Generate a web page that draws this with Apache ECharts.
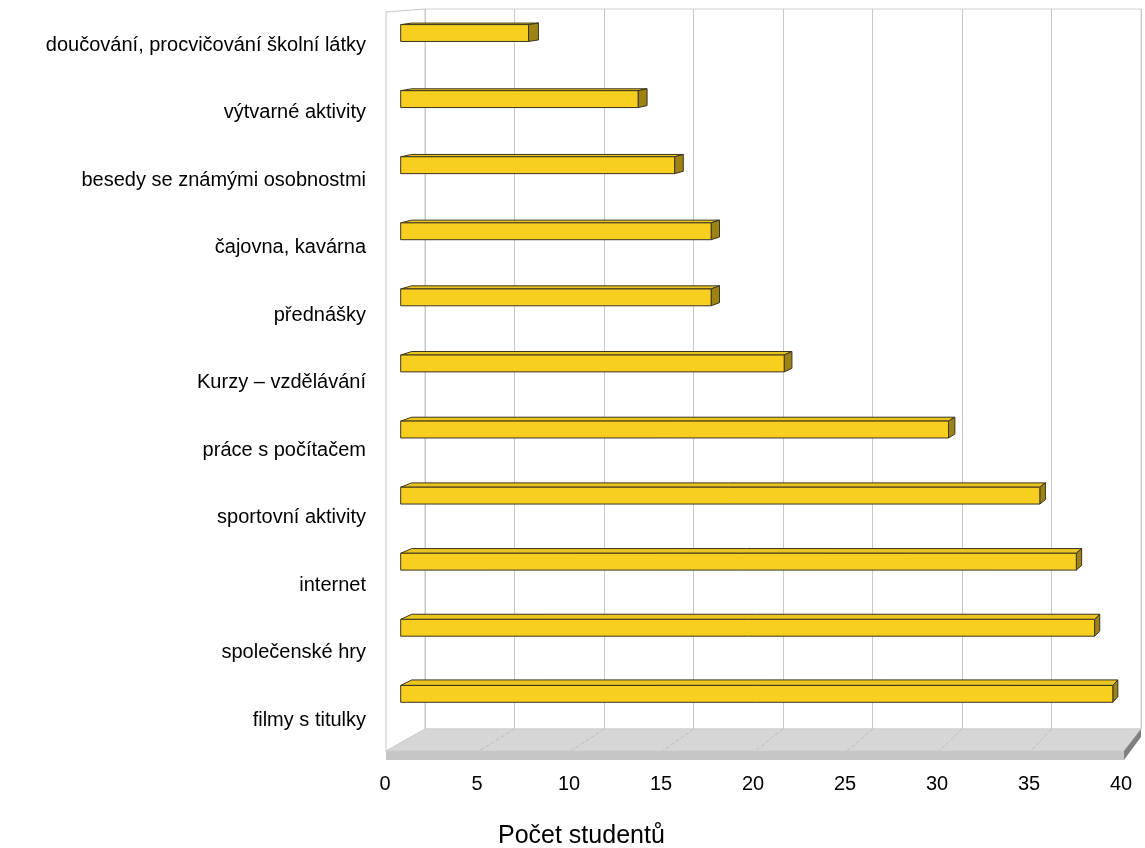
<!DOCTYPE html>
<html>
<head>
<meta charset="utf-8">
<script src="https://cdn.jsdelivr.net/npm/echarts@6/dist/echarts.min.js"></script>
<style>
html,body{margin:0;padding:0;background:#fff;}
#chart{width:1145px;height:848px;}
</style>
</head>
<body>
<div id="chart"></div>
<script>
// ---- data ----
const categories = [
  'doučování, procvičování školní látky',
  'výtvarné aktivity',
  'besedy se známými osobnostmi',
  'čajovna, kavárna',
  'přednášky',
  'Kurzy – vzdělávání',
  'práce s počítačem',
  'sportovní aktivity',
  'internet',
  'společenské hry',
  'filmy s titulky'
];
const values = [7, 13, 15, 17, 17, 21, 30, 35, 37, 38, 39];
const xTicks = [0, 5, 10, 15, 20, 25, 30, 35, 40];
const axisTitle = 'Počet studentů';

const FONT = 'Liberation Sans, Arial, sans-serif';
const chart = echarts.init(document.getElementById('chart'));

function renderBar(params, api) {
  const idx = api.value(0);
  const val = api.value(1);
  const p0 = api.coord([0, idx]);
  const p1 = api.coord([val, idx]);
  const band = api.size([0, 1])[1];
  const h = band * 0.255;
  const x0 = p0[0], x1 = p1[0];
  const y0 = p0[1] - h / 2, y1 = p0[1] + h / 2;
  const dxOf = x => 11 - 6 * (x - 400) / 713;
  const dy = -(1.5 + 4 * (y0 - 19) / 666);
  const dxL = dxOf(x0), dxR = dxOf(x1);
  const stroke = '#3b3520';
  return {
    type: 'group',
    children: [
      { type: 'polygon', shape: { points: [[x0, y0], [x1, y0], [x1 + dxR, y0 + dy], [x0 + dxL, y0 + dy]] },
        style: { fill: '#EAC51E', stroke: stroke, lineWidth: 1 } },
      { type: 'polygon', shape: { points: [[x1, y0], [x1 + dxR, y0 + dy], [x1 + dxR, y1 + dy], [x1, y1]] },
        style: { fill: '#9C8313', stroke: stroke, lineWidth: 1 } },
      { type: 'rect', shape: { x: x0, y: y0, width: x1 - x0, height: y1 - y0 },
        style: { fill: '#F8CF1F', stroke: stroke, lineWidth: 1 } }
    ]
  };
}

const option = {
  animation: false,
  backgroundColor: '#ffffff',
  title: {
    text: axisTitle, left: 493, top: 819,
    textStyle: { fontFamily: FONT, fontSize: 25, fontWeight: 'normal', color: '#000' }
  },
  grid: [
    { left: 385, right: 24, top: 11.25, height: 742.5 },           // front plane (labels)
    { left: 425, right: 4, top: 9, height: 720, show: true, borderColor: '#d0d0d0', borderWidth: 1, backgroundColor: 'transparent' }, // back wall
    { left: 400.7, width: 730.4, top: -6.3, height: 733.2 }          // bars
  ],
  xAxis: [
    { gridIndex: 0, type: 'value', min: 0, max: 40, interval: 5,
      axisLine: { show: false }, axisTick: { show: false }, splitLine: { show: false },
      axisLabel: { fontFamily: FONT, fontSize: 20, color: '#000', margin: 21 } },
    { gridIndex: 1, type: 'value', min: 0, max: 40, interval: 5,
      axisLine: { show: false }, axisTick: { show: false }, axisLabel: { show: false },
      splitLine: { show: true, lineStyle: { color: '#c8c8c8', width: 1 } } },
    { gridIndex: 2, type: 'value', min: 0, max: 40, show: false }
  ],
  yAxis: [
    { gridIndex: 0, type: 'category', data: categories, inverse: true,
      axisLine: { show: false }, axisTick: { show: false },
      axisLabel: { fontFamily: FONT, fontSize: 20, color: '#000', margin: 19 } },
    { gridIndex: 1, type: 'category', data: categories, inverse: true, show: false },
    { gridIndex: 2, type: 'category', data: categories, inverse: true, show: false }
  ],
  series: [{
    type: 'custom',
    xAxisIndex: 2, yAxisIndex: 2,
    z: 10,
    renderItem: renderBar,
    encode: { x: 1, y: 0 },
    data: values.map((v, i) => [i, v])
  }]
};
chart.setOption(option);

// ---- 3D floor and side wall built from the axes' own scales ----
const yBack = 729, yFront = 751, yBottom = 760;
const bx = v => chart.convertToPixel({ xAxisIndex: 1 }, v);
const fx = v => chart.convertToPixel({ xAxisIndex: 0 }, v);
const g = [];
// side wall
g.push({ type: 'polygon', z: 0, shape: { points: [[fx(0) + 1, 12], [bx(0), 9], [bx(0), yBack], [fx(0) + 1, yFront]] },
  style: { fill: '#ffffff', stroke: '#c8c8c8', lineWidth: 1 } });
// floor top
g.push({ type: 'polygon', z: 1, shape: { points: [[fx(0) + 1, yFront], [bx(0), yBack], [bx(40), yBack], [fx(40) + 3, yFront]] },
  style: { fill: '#d6d6d6', stroke: '#cfcfcf', lineWidth: 1 } });
// floor front face
g.push({ type: 'rect', z: 1, shape: { x: fx(0) + 1, y: yFront, width: fx(40) + 2 - fx(0), height: yBottom - yFront },
  style: { fill: '#c6c6c6' } });
// floor right face
g.push({ type: 'polygon', z: 1, shape: { points: [[fx(40) + 3, yFront], [bx(40), yBack], [bx(40), yBack + 8], [fx(40) + 3, yBottom]] },
  style: { fill: '#808080' } });
// floor grid lines
xTicks.slice(1, -1).forEach(v => {
  g.push({ type: 'line', z: 2, shape: { x1: bx(v), y1: yBack, x2: fx(v) + 2, y2: yFront },
    style: { stroke: '#bdbdbd', lineWidth: 1, lineDash: [4, 2] } });
});
chart.setOption({ graphic: { elements: g } });
</script>
</body>
</html>
